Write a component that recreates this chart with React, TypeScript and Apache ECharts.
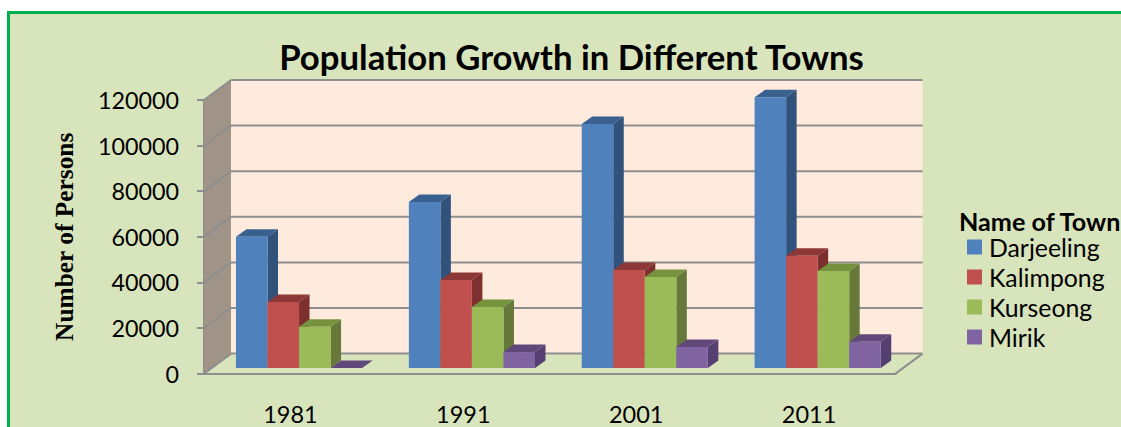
import React, { useEffect, useRef } from "react";
import * as echarts from "echarts";

const years = ["1981", "1991", "2001", "2011"];
const towns = ["Darjeeling", "Kalimpong", "Kurseong", "Mirik"];
const darjeeling = [57600, 72800, 107000, 118700];
const kalimpong = [28950, 38600, 43000, 49250];
const kurseong = [18100, 26750, 39900, 42500];
const mirik = [0, 7000, 9200, 11500];
const townValues = [darjeeling, kalimpong, kurseong, mirik];
const yTicks = [0, 20000, 40000, 60000, 80000, 100000, 120000];

const frontColors = ["#4f81bd", "#c0504d", "#9bbb59", "#8064a2"];
const sideColors = ["#31527a", "#7d302e", "#67793a", "#553f70"];
const topColors = ["#3a6090", "#8c3836", "#76923c", "#60497a"];

const WALL_DX = 27;
const WALL_DY = 20;
const BAR_DX = 10.5;
const BAR_DY = 7.5;
const BASE_DX = 8;
const BASE_DY = 5.6;
const GRID = "#8e8e8e";
const SANS = "Lato";

const poly = (points: number[][], fill: string) => ({
  type: "polygon",
  shape: { points },
  style: { fill, stroke: null },
});
const seg = (x1: number, y1: number, x2: number, y2: number) => ({
  type: "line",
  shape: { x1, y1, x2, y2 },
  style: { stroke: GRID, lineWidth: 2 },
});

const renderWalls = (params: any, api: any) => {
  const cs = params.coordSys;
  const y = api.coord([0, api.value(1)])[1];
  const left = cs.x;
  const right = cs.x + cs.width;
  const children: any[] = [];
  if (params.dataIndex === 0) {
    const top = cs.y;
    const bottom = cs.y + cs.height;
    children.push(
      poly(
        [
          [left + WALL_DX, top - WALL_DY],
          [right + WALL_DX, top - WALL_DY],
          [right + WALL_DX, bottom - WALL_DY],
          [left + WALL_DX, bottom - WALL_DY],
        ],
        "#feebdd",
      ),
      poly(
        [
          [left, top],
          [left + WALL_DX, top - WALL_DY],
          [left + WALL_DX, bottom - WALL_DY],
          [left, bottom],
        ],
        "#a09488",
      ),
      seg(right, bottom, right + WALL_DX, bottom - WALL_DY),
    );
  }
  children.push(
    seg(left, y, left + WALL_DX, y - WALL_DY),
    seg(left + WALL_DX, y - WALL_DY, right + WALL_DX, y - WALL_DY),
  );
  return { type: "group", children };
};

const renderBar = (townIndex: number) => (_params: any, api: any) => {
  const cat = api.value(0);
  const [cx, vy] = api.coord([cat, api.value(1)]);
  const zeroY = api.coord([cat, 0])[1];
  const band = api.size([1, 0])[0];
  const w = band * 0.1824;
  const x0 = cx + BASE_DX - 2 * w + townIndex * w + 0.6;
  const x1 = x0 + w;
  const yb = zeroY - BASE_DY;
  const yt = vy - BASE_DY;
  return {
    type: "group",
    children: [
      poly(
        [
          [x1, yb],
          [x1 + BAR_DX, yb - BAR_DY],
          [x1 + BAR_DX, yt - BAR_DY],
          [x1, yt],
        ],
        sideColors[townIndex],
      ),
      poly(
        [
          [x0, yt],
          [x0 + BAR_DX, yt - BAR_DY],
          [x1 + BAR_DX, yt - BAR_DY],
          [x1, yt],
        ],
        topColors[townIndex],
      ),
      poly(
        [
          [x0, yb],
          [x1, yb],
          [x1, yt],
          [x0, yt],
        ],
        frontColors[townIndex],
      ),
    ],
  };
};

export default function App() {
  const ref = useRef<HTMLDivElement>(null);
  useEffect(() => {
    document.body.style.margin = "0";
    const chart = echarts.init(ref.current!, null, { renderer: "svg" });
    chart.setOption({
      animation: false,
      backgroundColor: "#ffffff",
      textStyle: { fontFamily: SANS },
      title: [
        {
          text: "Population Growth in Different Towns",
          left: 566.5,
          top: 31,
          textAlign: "center",
          textStyle: { fontFamily: SANS, fontSize: 34.7, fontWeight: "bold", color: "#000000", lineHeight: 40 },
        },
        {
          text: "Name of Town",
          left: 959,
          top: 211,
          padding: 0,
          textStyle: { fontFamily: SANS, fontSize: 25.2, fontWeight: "bold", color: "#000000", lineHeight: 20 },
        },
      ],
      legend: {
        data: towns,
        orient: "vertical",
        left: 967,
        top: 234.5,
        padding: 0,
        itemWidth: 15,
        itemHeight: 15,
        itemGap: 5,
        icon: "rect",
        selectedMode: false,
        textStyle: { fontFamily: SANS, fontSize: 24.8, color: "#000000", lineHeight: 15, padding: [0, 0, 0, 2] },
      },
      grid: { left: 204, top: 100, width: 691.5, height: 273.6, containLabel: false, outerBoundsMode: "none" },
      xAxis: {
        type: "category",
        data: years,
        axisLine: { lineStyle: { color: GRID, width: 2 } },
        axisTick: { show: false },
        axisLabel: { fontFamily: SANS, fontSize: 23.5, color: "#000000", margin: 31, lineHeight: 18 },
      },
      yAxis: {
        type: "value",
        min: 0,
        max: 120000,
        interval: 20000,
        name: "Number of Persons",
        nameLocation: "middle",
        nameGap: 128,
        nameTextStyle: { fontFamily: "Liberation Serif", fontSize: 25.4, fontWeight: "bold", color: "#000000" },
        splitLine: { show: false },
        axisLine: { show: true, lineStyle: { color: GRID, width: 2 } },
        axisTick: { show: true, length: 7, lineStyle: { color: GRID, width: 2 } },
        axisLabel: {
          fontFamily: SANS,
          fontSize: 23.3,
          color: "#000000",
          margin: 25,
          formatter: (v: number) => String(v),
        },
      },
      graphic: [
        {
          type: "rect",
          z: -100,
          shape: { x: 8.5, y: 12.5, width: 1300, height: 600 },
          style: { fill: "#d8e4bc", stroke: "#00b050", lineWidth: 3 },
        },
      ],
      series: [
        {
          type: "custom",
          name: "walls",
          silent: true,
          z: 1,
          renderItem: renderWalls,
          data: yTicks.map((v) => [0, v]),
          encode: { x: 0, y: 1 },
        },
        ...towns.map((name, i) => ({
          type: "custom",
          name,
          silent: true,
          z: 3 + i,
          itemStyle: { color: frontColors[i] },
          renderItem: renderBar(i),
          data: townValues[i].map((v, c) => [c, v]),
          encode: { x: 0, y: 1 },
        })),
      ],
    });
    return () => chart.dispose();
  }, []);
  return <div ref={ref} style={{ position: "absolute", left: 0, top: 0, width: 1121, height: 427 }} />;
}
